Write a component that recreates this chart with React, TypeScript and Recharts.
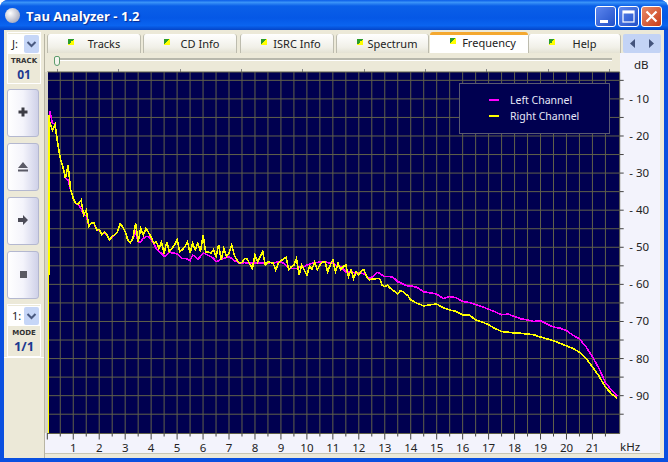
import React from "react";
import { LineChart, Line, XAxis, YAxis, CartesianGrid } from "recharts";

const leftName = "Left Channel";
const rightName = "Right Channel";
const leftColor = "#ff00ff";
const rightColor = "#ffff00";

const freqKHz = [0.05,0.06,0.1,0.2,0.3,0.4,0.5,0.6,0.7,0.8,0.9,1,1.1,1.2,1.3,1.4,1.5,1.6,1.7,1.8,1.9,2,2.1,2.2,2.3,2.4,2.5,2.6,2.7,2.8,2.9,3,3.1,3.2,3.3,3.4,3.5,3.6,3.7,3.8,3.9,4,4.1,4.2,4.3,4.4,4.5,4.6,4.7,4.8,4.9,5,5.1,5.2,5.3,5.4,5.5,5.6,5.7,5.8,5.9,6,6.1,6.2,6.3,6.4,6.5,6.6,6.7,6.8,6.9,7,7.1,7.2,7.3,7.4,7.5,7.6,7.7,7.8,7.9,8,8.1,8.2,8.3,8.4,8.5,8.6,8.7,8.8,8.9,9,9.1,9.2,9.3,9.4,9.5,9.6,9.7,9.8,9.9,10,10.1,10.2,10.3,10.4,10.5,10.6,10.7,10.8,10.9,11,11.1,11.2,11.3,11.4,11.5,11.6,11.7,11.8,11.9,12,12.1,12.2,12.3,12.4,12.5,12.6,12.7,12.8,12.9,13,13.1,13.2,13.3,13.4,13.5,13.6,13.7,13.8,13.9,14,14.25,14.5,14.75,15,15.25,15.5,15.75,16,16.25,16.5,16.75,17,17.25,17.5,17.75,18,18.25,18.5,18.75,19,19.25,19.5,19.75,20,20.25,20.5,20.75,21,21.25,21.5,21.75,21.95];

const leftDb = [-100,-15,-13.4,-16.6,-16.8,-22,-26,-28.3,-31.4,-31.8,-34.6,-36.8,-38.2,-38.6,-39.5,-41.3,-41.5,-44.3,-43.5,-43.6,-45.3,-45.4,-46.7,-46,-46.7,-48,-47.2,-46.7,-45.8,-44,-44.4,-45.8,-48,-48.8,-47.6,-45.8,-48.5,-48.5,-47.6,-47.1,-47.1,-48,-48.9,-50.3,-51.2,-51.6,-52.5,-52.1,-51.2,-51.5,-51.6,-51.8,-52.5,-53,-53,-53.2,-53.6,-52.1,-52.5,-53.2,-52.5,-51.6,-51.8,-52.2,-52.5,-53,-53.9,-53.6,-53.2,-53,-52.7,-52.5,-53,-53.6,-53.9,-54.3,-54.3,-54.1,-54.3,-54.3,-54.3,-54.3,-54.1,-54.3,-54.3,-54.3,-54.3,-54.1,-54.3,-54.1,-53.9,-53.9,-54.3,-55,-55.7,-55.7,-55.7,-55.7,-55.4,-55.2,-55.2,-54.8,-54.5,-54.3,-54.1,-54.1,-53.9,-53.9,-53.9,-54.1,-54.3,-54.3,-54.8,-55,-55.2,-55.9,-56.6,-56.6,-56.6,-56.8,-57,-57,-57,-57.2,-57.7,-58.4,-58.1,-57.5,-56.8,-57,-57.5,-57.9,-57.9,-57.9,-58.1,-58.6,-59.3,-59.5,-59.9,-60.2,-60.4,-60.4,-60.8,-62,-62.3,-62.6,-63.8,-63.3,-63.6,-64.6,-64.9,-65.4,-66,-66.7,-67.4,-68.2,-68,-68.7,-69.3,-69.6,-70,-69.8,-70.7,-71.5,-71.8,-72.5,-73.7,-74.7,-76.8,-79.5,-82.6,-86.5,-88.6,-90.1];

const rightDb = [-100,-14.3,-16.6,-18.4,-17,-22,-26,-28.3,-31.4,-27.8,-34.6,-36.8,-38.2,-38.3,-37.3,-41.3,-40,-44.3,-43.5,-43.4,-45.3,-45.2,-46.7,-45.8,-46.7,-48,-47,-46.7,-45.8,-43.7,-44.4,-45.8,-48,-48.8,-47.6,-43.5,-48.5,-44.9,-46.7,-44.9,-46,-47.3,-48.9,-48.5,-50.3,-48.5,-51.8,-48.5,-51.2,-50.3,-49.4,-47.9,-51.2,-50.7,-49.8,-48.5,-51.6,-48.9,-50.7,-48.9,-51.2,-46.7,-51.2,-51.2,-51.6,-50.7,-52.5,-49.4,-53.4,-50.3,-52.5,-51.6,-49.4,-52,-53.4,-54.3,-54.1,-53,-53.2,-54.5,-55.7,-52.1,-53.9,-52.5,-51.2,-54.8,-53.9,-54.1,-54.3,-56.1,-54.3,-53.6,-53.2,-52.7,-56.1,-55.2,-54.8,-53,-57.5,-54.8,-56.1,-57.5,-55.2,-55.9,-53.9,-56.1,-54.8,-53.9,-53.9,-56.6,-54.8,-53.4,-56.6,-54.3,-56.1,-55.2,-54.8,-57.9,-56.1,-58.4,-56.6,-57.5,-56.3,-56.1,-57.9,-58.8,-58.6,-58.6,-58.4,-58.4,-60.2,-60.6,-60.2,-61,-61.5,-62,-62.6,-61.7,-62,-62.6,-63.1,-64.2,-65.1,-65.8,-65.5,-65.3,-66.3,-66.9,-67.3,-68.2,-68.2,-69.6,-70.1,-70.9,-71.9,-72.7,-72.9,-73.1,-73.2,-73.4,-73.6,-74.2,-74.7,-75.2,-75.9,-76.6,-77.3,-78.3,-79.9,-82.2,-84.7,-87.7,-89.6,-90.7];

const kHzTicks = [0,0.5,1,1.5,2,2.5,3,3.5,4,4.5,5,5.5,6,6.5,7,7.5,8,8.5,9,9.5,10,10.5,11,11.5,12,12.5,13,13.5,14,14.5,15,15.5,16,16.5,17,17.5,18,18.5,19,19.5,20,20.5,21,21.5];
const dbTicks = [-5,-10,-15,-20,-25,-30,-35,-40,-45,-50,-55,-60,-65,-70,-75,-80,-85,-90,-95];
const tabNames = ["Tracks","CD Info","ISRC Info","Spectrum","Frequency","Help"];
const sliderTicks = [57,118,180,241,302,364,425,486,548,609];

const rows = freqKHz.map((f, i) => ({ f, left: leftDb[i], right: rightDb[i] }));

const uiFont = '"Noto Sans", Tahoma, sans-serif';
const GRID = "#60604a";
const NAVY = "#000050";
const BEIGE = "#ece9d8";
const LAV = "#f3f3fc";

const abs = (l: number, t: number, w: number, h: number, extra: React.CSSProperties = {}): React.CSSProperties => ({
  position: "absolute", left: l, top: t, width: w, height: h, ...extra,
});

const XTick = (p: any) => {
  const v = p.payload.value;
  const major = Number.isInteger(v);
  return (
    <g>
      <line x1={p.x} x2={p.x} y1={p.y} y2={p.y + (major ? 6 : 3)} stroke="#444" />
      {major && v > 0 ? (
        <text x={p.x} y={p.y + 18} textAnchor="middle" fontSize={11.5} fontFamily={uiFont} fill="#222">{v}</text>
      ) : null}
    </g>
  );
};

const YTick = (p: any) => {
  const v = p.payload.value;
  return (
    <g>
      <line x1={p.x} x2={p.x + 4} y1={p.y} y2={p.y} stroke="#444" />
      {v % 10 === 0 ? (
        <text x={p.x + 9.5} y={p.y + 4} textAnchor="start" fontSize={11.5} fontFamily={uiFont} fill="#222">{`- ${Math.abs(v)}`}</text>
      ) : null}
    </g>
  );
};

const Combo = ({ top, label }: { top: number; label: string }) => (
  <div style={abs(8, top, 32, 20, { background: "#fff" })}>
    <span style={{ position: "absolute", left: 4, top: 2, fontFamily: uiFont, fontSize: 11, color: "#222" }}>{label}</span>
    <div style={abs(16, 1, 15, 18, { background: "#c6d6f7", borderRadius: 2 })}>
      <svg width={15} height={18}><path d="M3.5 7 L7.5 11 L11.5 7" fill="none" stroke="#4a5a80" strokeWidth={2} /></svg>
    </div>
  </div>
);

const SideButton = ({ top, h, children }: { top: number; h: number; children: React.ReactNode }) => (
  <div style={abs(7, top, 32, h, { boxSizing: "border-box", border: "1px solid #b4b8d0", borderRadius: 3, background: "linear-gradient(90deg,#ffffff 0%,#f4f4fb 50%,#cfd1e8 100%)" })}>
    <svg width={30} height={h - 2}>{children}</svg>
  </div>
);

const CaptionBtn = ({ left, color, children }: { left: number; color: string; children: React.ReactNode }) => (
  <div style={abs(left, 6, 21, 21, { boxSizing: "border-box", border: "1px solid #fff", borderRadius: 3, background: color })}>
    <svg width={19} height={19}>{children}</svg>
  </div>
);

export default function App() {
  return (
    <div style={{ position: "fixed", left: 0, top: 0, width: 668, height: 462, overflow: "hidden", background: "#fff" }}>
      {/* window frame */}
      <div style={abs(0, 0, 668, 462, { background: "#0a50e0", borderRadius: "8px 8px 0 0" })} />
      <div style={abs(0, 0, 668, 30, { borderRadius: "8px 8px 0 0", background: "linear-gradient(180deg,#0a5ce8 0%,#3a93f8 8%,#0a5fe8 20%,#0558e6 60%,#0a64f0 85%,#0445c8 100%)" })} />
      <div style={abs(5, 8, 15, 15, { borderRadius: 8, background: "radial-gradient(circle at 35% 35%,#ffffff,#a8acc0 75%,#70748c)" })} />
      <div style={{ position: "absolute", left: 26, top: 7, fontFamily: '"Open Sans", sans-serif', fontWeight: 700, fontSize: 13, color: "#fff", textShadow: "1px 1px 1px #0a2a90", whiteSpace: "nowrap" }}>Tau Analyzer - 1.2</div>
      <CaptionBtn left={595} color="linear-gradient(135deg,#5d86ee,#2050c8)">
        <rect x={4} y={13} width={8} height={3} fill="#fff" />
      </CaptionBtn>
      <CaptionBtn left={618} color="linear-gradient(135deg,#5d86ee,#2050c8)">
        <rect x={4} y={4} width={11} height={11} fill="none" stroke="#fff" strokeWidth={1.2} />
        <rect x={4} y={4} width={11} height={2.5} fill="#fff" />
      </CaptionBtn>
      <CaptionBtn left={641} color="linear-gradient(135deg,#e88a68,#c83c18)">
        <path d="M4.5 4.5 L14.5 14.5 M14.5 4.5 L4.5 14.5" stroke="#fff" strokeWidth={2.2} />
      </CaptionBtn>

      {/* client area */}
      <div style={abs(4, 30, 660, 428, { background: BEIGE })} />
      <div style={abs(45, 53, 615, 400, { background: LAV })} />
      <div style={abs(44, 34, 1, 424, { background: "#b8b5a4" })} />
      <div style={abs(45, 453, 615, 1, { background: "#c8c5b4" })} />
      <div style={abs(45, 53, 575, 19, { background: BEIGE })} />
      <div style={abs(45, 433, 575, 20, { background: LAV })} />

      {/* slider */}
      <div style={abs(55, 58, 557, 2, { background: "#b8b8ac", borderBottom: "1px solid #fff" })} />
      <div style={abs(54, 56, 6, 10, { boxSizing: "border-box", background: "#f4f4ee", border: "1px solid #5c9c6c", borderRadius: "2px 2px 3px 3px" })} />
      {sliderTicks.map((x) => <div key={x} style={abs(x, 69, 1, 3, { background: "#888" })} />)}

      {/* tabs */}
      {tabNames.map((name, i) => {
        const lefts = [47, 143, 240, 336, 430, 528];
        const widths = [94, 94, 94, 93, 98, 93];
        const active = name === "Frequency";
        return (
          <div key={name} style={abs(lefts[i], active ? 32 : 34, widths[i], active ? 21 : 19, {
            boxSizing: "border-box",
            background: active ? "#fff" : "linear-gradient(180deg,#ffffff,#f1f0e8 70%,#e4e2d4)",
            border: active ? "none" : "1px solid #bdbcae",
            borderBottom: "none",
            borderTop: active ? "3px solid #f4a830" : undefined,
            borderRadius: "3px 3px 0 0",
          })}>
            <div style={abs(20, active ? 3 : 5, 6, 6, { background: "linear-gradient(135deg,#2c9c2c 50%,#ffff00 50%)" })} />
            <div style={{ position: "absolute", left: 0, width: "100%", top: active ? 0 : 2, paddingLeft: 20, boxSizing: "border-box", textAlign: "center", fontFamily: uiFont, fontSize: 11, lineHeight: "15px", color: "#222" }}>{name}</div>
          </div>
        );
      })}
      <div style={abs(623, 34, 38, 19, { background: "#c3d3f5", borderRadius: 2 })}>
        <svg width={38} height={19}>
          <path d="M12 5 L7 9.5 L12 14 Z M26 5 L31 9.5 L26 14 Z" fill="#44547c" />
        </svg>
      </div>

      {/* side panel */}
      <div style={abs(7, 32, 34, 52, { boxSizing: "border-box", border: "1px solid #fff" })} />
      <Combo top={34} label="J:" />
      <div style={{ ...abs(7, 57, 34, 8), textAlign: "center", fontFamily: '"DejaVu Sans", sans-serif', fontWeight: 700, fontSize: 7, lineHeight: "8px", color: "#333" }}>TRACK</div>
      <div style={{ ...abs(7, 67, 34, 15), textAlign: "center", fontFamily: '"Open Sans", sans-serif', fontWeight: 700, fontSize: 12, lineHeight: "15px", color: "#1c3a90" }}>01</div>
      <SideButton top={89} h={48}><path d="M13.5 17.5 h3 v3 h3 v3 h-3 v3 h-3 v-3 h-3 v-3 h3 Z" fill="#3c3c44" /></SideButton>
      <SideButton top={143} h={48}><path d="M15 18 L20 24 H10 Z M10 25.5 H20 V27.5 H10 Z" fill="#5a5a66" /></SideButton>
      <SideButton top={197} h={48}><path d="M10 20 h5 v-3 l5 5 -5 5 v-3 h-5 Z" fill="#4c4c58" /></SideButton>
      <SideButton top={251} h={48}><rect x={12} y={19} width={7} height={7} fill="#5a5a62" /></SideButton>
      <div style={abs(7, 304, 34, 53, { boxSizing: "border-box", border: "1px solid #fff" })} />
      <Combo top={306} label="1:" />
      <div style={{ ...abs(7, 329, 34, 8), textAlign: "center", fontFamily: '"DejaVu Sans", sans-serif', fontWeight: 700, fontSize: 7, lineHeight: "8px", color: "#333" }}>MODE</div>
      <div style={{ ...abs(7, 339, 34, 15), textAlign: "center", fontFamily: '"Open Sans", sans-serif', fontWeight: 700, fontSize: 13, lineHeight: "15px", color: "#1c3a90" }}>1/1</div>
      <div style={abs(4, 357, 40, 1, { background: "#fff" })} />

      {/* chart */}
      <div style={abs(0, 0, 668, 462)}>
        <LineChart width={668} height={462} data={rows} margin={{ top: 72, left: 47.3, right: 8.3, bottom: 8.5 }}>
          <CartesianGrid stroke={GRID} strokeWidth={1} fill={NAVY} fillOpacity={1} />
          <XAxis dataKey="f" type="number" domain={[0, 22.05]} ticks={kHzTicks} interval={0} height={20} axisLine={false} tickLine={false} tickSize={0} tickMargin={0} tick={XTick} allowDataOverflow />
          <YAxis orientation="right" type="number" domain={[-100.2, -2.75]} ticks={dbTicks} interval={0} width={40} axisLine={false} tickLine={false} tickSize={0} tickMargin={0} tick={YTick} allowDataOverflow />
          <Line type="linear" dataKey="left" name={leftName} stroke={leftColor} strokeWidth={1.6} dot={false} isAnimationActive={false} shapeRendering="crispEdges" />
          <Line type="linear" dataKey="right" name={rightName} stroke={rightColor} strokeWidth={1.6} dot={false} isAnimationActive={false} shapeRendering="crispEdges" />
        </LineChart>
      </div>
      <div style={abs(45, 72, 3, 361, { background: "#d8d5c4" })} />
      <div style={{ position: "absolute", left: 634, top: 57, fontFamily: uiFont, fontSize: 11.5, color: "#222" }}>dB</div>
      <div style={{ position: "absolute", left: 620, top: 439, fontFamily: uiFont, fontSize: 11.5, color: "#222" }}>kHz</div>

      {/* legend */}
      <div style={abs(459, 83, 151, 51, { boxSizing: "border-box", background: NAVY, border: "1px solid #5a5a70" })}>
        {[{ n: leftName, c: leftColor, y: 16 }, { n: rightName, c: rightColor, y: 32 }].map((e) => (
          <React.Fragment key={e.n}>
            <div style={abs(29, e.y - 1, 10, 2, { background: e.c })} />
            <div style={{ position: "absolute", left: 50, top: e.y - 7, fontFamily: uiFont, fontSize: 10.5, lineHeight: "15px", color: "#e8e8f8", whiteSpace: "nowrap" }}>{e.n}</div>
          </React.Fragment>
        ))}
      </div>
    </div>
  );
}
